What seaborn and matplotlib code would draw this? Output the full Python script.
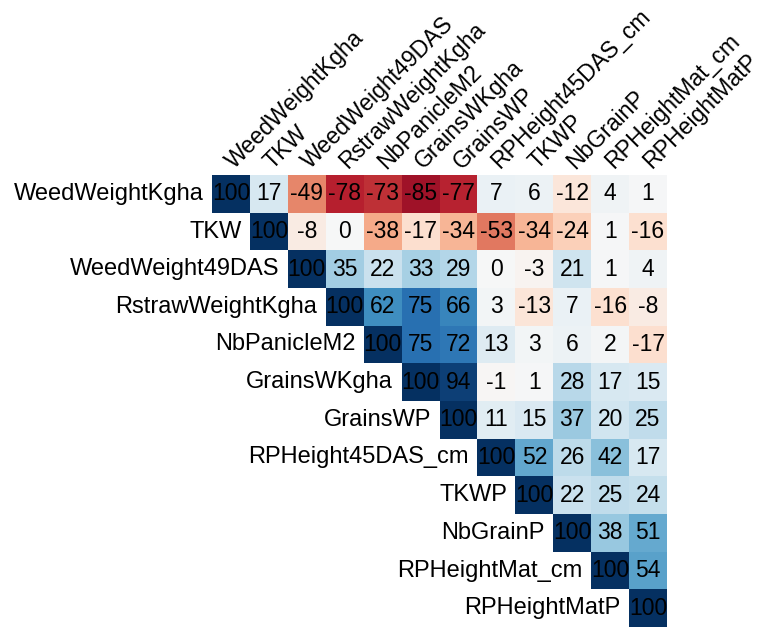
import numpy as np
import pandas as pd
import matplotlib
matplotlib.use("Agg")
import matplotlib.pyplot as plt
import seaborn as sns

variables = ["WeedWeightKgha", "TKW", "WeedWeight49DAS", "RstrawWeightKgha",
             "NbPanicleM2", "GrainsWKgha", "GrainsWP", "RPHeight45DAS_cm",
             "TKWP", "NbGrainP", "RPHeightMat_cm", "RPHeightMatP"]

# upper triangle rows, starting at the diagonal
row0 = [100, 17, -49, -78, -73, -85, -77, 7, 6, -12, 4, 1]
row1 = [100, -8, 0, -38, -17, -34, -53, -34, -24, 1, -16]
row2 = [100, 35, 22, 33, 29, 0, -3, 21, 1, 4]
row3 = [100, 62, 75, 66, 3, -13, 7, -16, -8]
row4 = [100, 75, 72, 13, 3, 6, 2, -17]
row5 = [100, 94, -1, 1, 28, 17, 15]
row6 = [100, 11, 15, 37, 20, 25]
row7 = [100, 52, 26, 42, 17]
row8 = [100, 22, 25, 24]
row9 = [100, 38, 51]
row10 = [100, 54]
row11 = [100]

rows = [row0, row1, row2, row3, row4, row5, row6, row7, row8, row9, row10, row11]
n = len(variables)
mat = np.full((n, n), np.nan)
for i, r in enumerate(rows):
    mat[i, i:] = r
    mat[i:, i] = r
corr = pd.DataFrame(mat, index=variables, columns=variables)
mask = np.tril(np.ones((n, n), dtype=bool), k=-1)

plt.rcParams["font.family"] = ["Liberation Sans", "DejaVu Sans"]

fig = plt.figure(figsize=(7.61, 6.28), dpi=100)
ax = fig.add_axes([212 / 761, 1 / 628, 455 / 761, 452 / 628])

sns.heatmap(corr, mask=mask, cmap="RdBu", vmin=-100, vmax=100, annot=True,
            fmt=".0f", annot_kws={"size": 16.5, "color": "black"},
            cbar=False, square=False, linewidths=0, ax=ax)

ax.set_xticks([])
ax.set_yticks([])
ax.set_xlabel("")
ax.set_ylabel("")
for s in ax.spines.values():
    s.set_visible(False)

for i, name in enumerate(variables):
    ax.text(i - 0.22, i + 0.5, name, ha="right", va="center", fontsize=17)
    ax.text(i + 0.68, -0.04, name, ha="left", va="bottom", rotation=45,
            rotation_mode="anchor", fontsize=16.6, clip_on=False)

fig.savefig("out.png", dpi=100)
